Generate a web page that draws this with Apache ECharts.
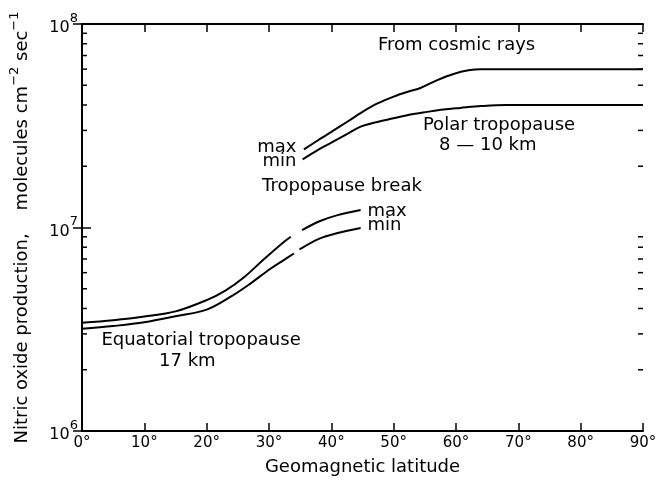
<!DOCTYPE html>
<html>
<head>
<meta charset="utf-8">
<script src="https://cdn.jsdelivr.net/npm/echarts@6/dist/echarts.min.js"></script>
<style>html,body{margin:0;padding:0;background:#fff}#c{width:661px;height:481px}</style>
</head>
<body>
<div id="c"></div>
<script>
// ---- data ----
const latTicks = [0, 10, 20, 30, 40, 50, 60, 70, 80, 90];
const decadeTicks = [1e6, 1e7, 1e8];
const minorTickValues = [2e6,3e6,4e6,5e6,6e6,7e6,8e6,9e6,2e7,3e7,4e7,5e7,6e7,7e7,8e7,9e7];

// polar (cosmic rays) curves
const polarMaxLat = [35.6, 38, 40, 42.5, 45, 47.4, 50, 52, 54.3, 57, 59.6, 62, 64, 70, 80, 90];
const polarMaxVal = [2.42e7, 2.7e7, 2.95e7, 3.3e7, 3.7e7, 4.07e7, 4.4e7, 4.62e7, 4.85e7, 5.3e7, 5.68e7, 5.92e7, 6.0e7, 6.0e7, 6.0e7, 6.0e7];
const polarMinLat = [35.4, 38, 40, 42.5, 44.7, 47, 50, 52.5, 55.4, 58, 60.7, 64, 68, 75, 90];
const polarMinVal = [2.16e7, 2.42e7, 2.61e7, 2.88e7, 3.13e7, 3.28e7, 3.44e7, 3.58e7, 3.7e7, 3.8e7, 3.87e7, 3.95e7, 4.0e7, 4.0e7, 4.0e7];

// equatorial curves (null = break in the line)
const eqMaxLat = [0, 5, 10, 15, 20, 23, 26, 29, 32, 33.5, 34.4, 35.3, 38, 41, 44.7];
const eqMaxVal = [3.4e6, 3.5e6, 3.65e6, 3.87e6, 4.4e6, 4.9e6, 5.7e6, 6.9e6, 8.3e6, 9.0e6, null, 9.7e6, 1.07e7, 1.15e7, 1.22e7];
const eqMinLat = [0, 5, 10, 15, 20, 24, 27, 30, 32, 34, 34.45, 34.9, 38, 41, 44.7];
const eqMinVal = [3.18e6, 3.28e6, 3.42e6, 3.66e6, 3.95e6, 4.6e6, 5.3e6, 6.2e6, 6.8e6, 7.45e6, null, 7.8e6, 8.8e6, 9.4e6, 9.95e6];

// annotations
const annText = ['From cosmic rays', 'Polar tropopause', '8 \u2014 10 km', 'max', 'min', 'Tropopause break', 'max', 'min', 'Equatorial tropopause', '17 km'];
const annLat  = [60.1, 66.9, 65.1, 34.4, 34.4, 41.7, 45.8, 45.8, 19.1, 16.9];
const annVal  = [7.9e7, 3.19e7, 2.52e7, 2.49e7, 2.11e7, 1.59e7, 1.2e7, 1.02e7, 2.8e6, 2.19e6];
const annAlign = ['center', 'center', 'center', 'right', 'right', 'center', 'left', 'left', 'center', 'center'];

// ---- chart ----
const FONT = 'DejaVu Sans';
const toPairs = (xs, ys) => xs.map((x, i) => [x, ys[i] == null ? '-' : ys[i]]);
const lineSeries = (xs, ys) => ({
  type: 'line', xAxisIndex: 0, yAxisIndex: 0,
  data: toPairs(xs, ys), showSymbol: false, symbol: 'none', smooth: 0.35,
  connectNulls: false, silent: true,
  lineStyle: { color: '#000', width: 2 }
});

const chart = echarts.init(document.getElementById('c'), null, { renderer: 'canvas' });
const axisLine = { show: true, lineStyle: { color: '#000', width: 2 } };
const tickStyle = { color: '#000', width: 1.5 };

chart.setOption({
  animation: false,
  backgroundColor: '#fff',
  textStyle: { fontFamily: FONT, color: '#000' },
  grid: { left: 81, right: 18, top: 24, bottom: 46, containLabel: false },
  xAxis: [{
    type: 'value', min: 0, max: 90, interval: 10, position: 'bottom',
    axisLine: axisLine,
    axisTick: { show: true, inside: true, length: 8, lineStyle: tickStyle },
    axisLabel: { formatter: v => latTicks.includes(v) ? v + '\u00b0' : '', fontFamily: FONT, fontSize: 15, color: '#000', margin: 5 },
    splitLine: { show: false },
    name: 'Geomagnetic latitude', nameLocation: 'middle', nameGap: 27,
    nameTextStyle: { fontFamily: FONT, fontSize: 18, color: '#000' }
  }, {
    type: 'value', min: 0, max: 90, interval: 10, position: 'top',
    axisLine: axisLine,
    axisTick: { show: true, inside: true, length: 8, lineStyle: tickStyle },
    axisLabel: { show: false }, splitLine: { show: false }
  }],
  yAxis: [{
    type: 'log', logBase: 10, min: decadeTicks[0], max: decadeTicks[decadeTicks.length - 1], position: 'left',
    axisLine: axisLine,
    axisTick: { show: true, inside: true, length: 9, lineStyle: tickStyle },
    axisLabel: {
      formatter: v => '{b|10}{s|' + Math.round(Math.log10(v)) + '}',
      margin: 4,
      rich: {
        b: { fontFamily: FONT, fontSize: 16, color: '#000', lineHeight: 24, verticalAlign: 'bottom' },
        s: { fontFamily: FONT, fontSize: 13, color: '#000', lineHeight: 24, verticalAlign: 'top' }
      }
    },
    splitLine: { show: false },
    name: 'Nitric oxide production,    molecules cm{s|\u22122} sec{s|\u22121}',
    nameLocation: 'middle', nameGap: 46, nameRotate: 90,
    nameTextStyle: {
      fontFamily: FONT, fontSize: 18, color: '#000',
      rich: {
        s: { fontFamily: FONT, fontSize: 13, color: '#000', lineHeight: 28, verticalAlign: 'top' }
      }
    }
  }, {
    type: 'log', logBase: 10, min: decadeTicks[0], max: decadeTicks[decadeTicks.length - 1], position: 'right',
    axisLine: axisLine,
    axisTick: { show: true, inside: true, length: 9, lineStyle: tickStyle },
    axisLabel: { show: false }, splitLine: { show: false }
  }],
  series: [
    lineSeries(polarMaxLat, polarMaxVal),
    lineSeries(polarMinLat, polarMinVal),
    lineSeries(eqMaxLat, eqMaxVal),
    lineSeries(eqMinLat, eqMinVal),
    {
      type: 'custom', xAxisIndex: 0, yAxisIndex: 0, silent: true, clip: false,
      data: minorTickValues.map(v => [0, v]),
      renderItem: (params, api) => {
        const v = api.value(1);
        const l = api.coord([0, v]);
        const r = api.coord([90, v]);
        const style = { stroke: '#000', lineWidth: 1.5 };
        return { type: 'group', children: [
          { type: 'line', shape: { x1: l[0], y1: l[1], x2: l[0] + 5, y2: l[1] }, style },
          { type: 'line', shape: { x1: r[0], y1: r[1], x2: r[0] - 5, y2: r[1] }, style }
        ] };
      }
    },
    {
      type: 'custom', xAxisIndex: 0, yAxisIndex: 0, silent: true, clip: false,
      data: annText.map((t, i) => [annLat[i], annVal[i], i]),
      renderItem: (params, api) => {
        const i = api.value(2);
        const p = api.coord([api.value(0), api.value(1)]);
        return {
          type: 'text', x: p[0], y: p[1],
          style: { text: annText[i], fill: '#000', fontFamily: FONT, fontSize: 18,
                   align: annAlign[i], verticalAlign: 'middle' }
        };
      }
    }
  ]
});
</script>
</body>
</html>
